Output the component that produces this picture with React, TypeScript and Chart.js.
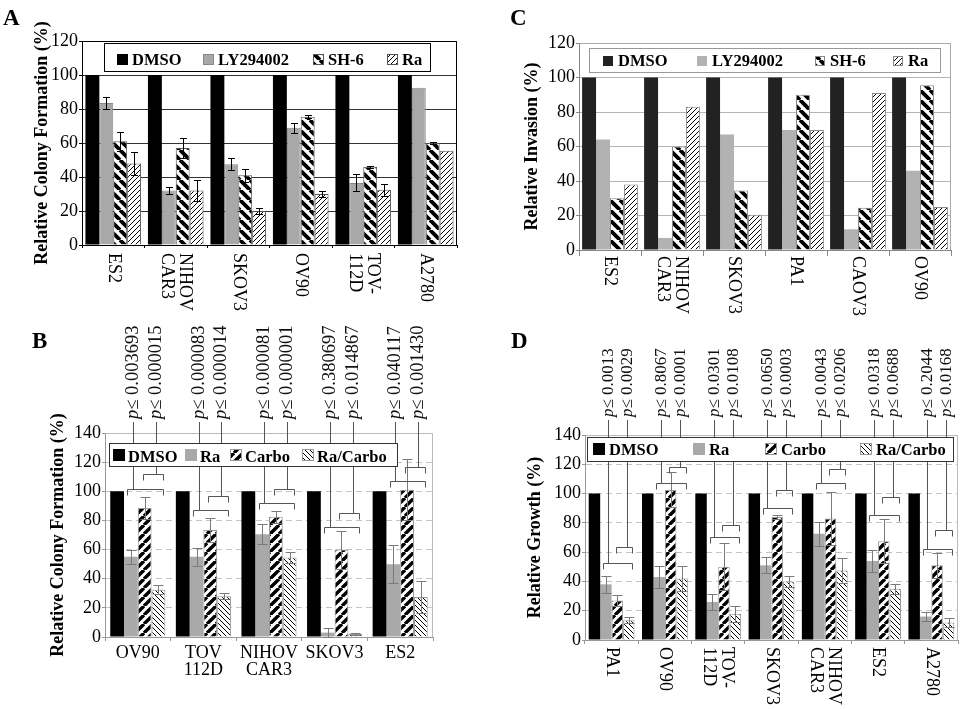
import React, { useEffect, useMemo, useRef } from "react";
import { Chart, registerables } from "chart.js";
Chart.register(...registerables);

const SERIF = '"Liberation Serif", "Times New Roman", serif';
Chart.defaults.font.family = SERIF;

// ---------------- Panel A : colony formation ----------------
const catsA = [["ES2"], ["NIHOV", "CAR3"], ["SKOV3"], ["OV90"], ["TOV-", "112D"], ["A2780"]];
const namesA = ["DMSO", "LY294002", "SH-6", "Ra"];
const aDMSO = [100, 100, 100, 100, 100, 100];
const aLY = [83.5, 32, 47.5, 69, 36.5, 92.5];
const aLYErr = [3.5, 2, 3.5, 3, 5, 0];
const aSH6 = [61, 57, 41, 75.5, 46, 60];
const aSH6Err = [5.5, 6, 4, 1, 0.5, 0.5];
const aRa = [48, 32, 20, 30, 32.5, 55.5];
const aRaErr = [7, 6, 1.5, 1.5, 3.5, 0];
const yMaxA = 120;

// ---------------- Panel C : invasion ----------------
const catsC = [["ES2"], ["NIHOV", "CAR3"], ["SKOV3"], ["PA1"], ["CAOV3"], ["OV90"]];
const namesC = ["DMSO", "LY294002", "SH-6", "Ra"];
const cDMSO = [100, 100, 100, 100, 100, 100];
const cLY = [64, 7, 67, 69.5, 12, 46];
const cSH6 = [30, 60, 34.5, 90, 24.5, 95.5];
const cRa = [38, 83, 20.5, 69.5, 91, 25];
const yMaxC = 120;

// ---------------- Panel B : colony formation with carboplatin ----------------
const catsB = [["OV90"], ["TOV", "112D"], ["NIHOV", "CAR3"], ["SKOV3"], ["ES2"]];
const namesB = ["DMSO", "Ra", "Carbo", "Ra/Carbo"];
const bDMSO = [100, 100, 100, 100, 100];
const bRa = [55, 55, 70.5, 3, 50];
const bRaErr = [5, 6, 7, 3, 13];
const bCarbo = [88.5, 73.5, 82.5, 60, 101];
const bCarboErr = [7.5, 8.5, 4, 13, 21];
const bCombo = [32.5, 28, 54.5, 2, 27.5];
const bComboErr = [3, 2, 3.5, 0.5, 11];
const bBracketLow = [101.3, 87.4, 92, 75.5, 107];
const bBracketHigh = [111.6, 96.5, 101.3, 85.3, 116.7];
const bP1 = ["0.003693", "0.000083", "0.000081", "0.380697", "0.040117"];
const bP2 = ["0.000015", "0.000014", "0.000001", "0.014867", "0.001430"];
const yMaxB = 140;

// ---------------- Panel D : growth ----------------
const catsD = [["PA1"], ["OV90"], ["TOV-", "112D"], ["SKOV3"], ["NIHOV", "CAR3"], ["ES2"], ["A2780"]];
const namesD = ["DMSO", "Ra", "Carbo", "Ra/Carbo"];
const dDMSO = [100, 100, 100, 100, 100, 100, 100];
const dRa = [38, 43, 26, 51, 72.5, 54, 16];
const dRaErr = [6, 7.5, 5.5, 5.5, 8, 7.5, 3];
const dCarbo = [27, 102.5, 50, 84, 83, 67.5, 51];
const dCarboErr = [3.5, 12, 16, 1.5, 18, 15, 8.5];
const dCombo = [13.5, 42, 18, 40, 47.5, 35, 12];
const dComboErr = [2, 8.5, 5.5, 4, 8.5, 3.5, 3];
const dBracketLow = [52.8, 107.4, 70.1, 89.9, 107, 85.4, 62.1];
const dBracketHigh = [63.3, 117.9, 78.5, 102.4, 116.8, 97.9, 75.1];
const dP1 = ["0.0013", "0.8067", "0.0301", "0.0650", "0.0043", "0.0318", "0.2044"];
const dP2 = ["0.0029", "0.0001", "0.0108", "0.0003", "0.0206", "0.0688", "0.0168"];
const yMaxD = 140;

type Box = { x: number; y: number; w: number; h: number };
type Series = { label: string; data: number[]; err?: number[]; fill: any; border?: string };
type LegendCfg = { box: Box; border: string; sw: number; swTop: number; xs: number[]; baseline: number; textOff: number };
type BracketCfg = { low: number[]; high: number[]; p1: string[]; p2: string[]; textBottom: number; color: string; fontSize: number };
type PanelCfg = {
  letter: string;
  letterPos: [number, number];
  canvas: Box;
  area: { l: number; t: number; r: number; b: number };
  titleX: number;
  yTitle: string;
  yMax: number;
  cats: string[][];
  series: Series[];
  catPct: number;
  gridColor: string;
  gridDash?: number[];
  frameColor: string;
  axisColor: string;
  xTickLen: number;
  legend: LegendCfg;
  flatLabels: boolean;
  labelTop: number;
  xH: number;
  errColor: string;
  errCap: number;
  brackets?: BracketCfg;
};

function stripe(dir: 1 | -1, period: number, lw: number): CanvasPattern | string {
  const c = document.createElement("canvas");
  c.width = period;
  c.height = period;
  const g = c.getContext("2d");
  if (!g) return "#888";
  g.fillStyle = "#fff";
  g.fillRect(0, 0, period, period);
  g.strokeStyle = "#000";
  g.lineWidth = lw;
  g.beginPath();
  for (let k = -1; k <= 1; k++) {
    if (dir === 1) {
      g.moveTo(k * period, period);
      g.lineTo(k * period + period, 0);
    } else {
      g.moveTo(k * period, 0);
      g.lineTo(k * period + period, period);
    }
  }
  g.stroke();
  return g.createPattern(c, "repeat") || "#888";
}

function buildA(): PanelCfg {
  return {
    letter: "A",
    letterPos: [3, 25],
    canvas: { x: 0, y: 0, w: 480, h: 320 },
    area: { l: 82, t: 41, r: 457, b: 245 },
    titleX: 42,
    yTitle: "Relative Colony Formation (%)",
    yMax: yMaxA,
    cats: catsA,
    series: [
      { label: namesA[0], data: aDMSO, fill: "#000" },
      { label: namesA[1], data: aLY, err: aLYErr, fill: "#a8a8a8", border: "#888" },
      { label: namesA[2], data: aSH6, err: aSH6Err, fill: stripe(-1, 10, 3.8), border: "#555" },
      { label: namesA[3], data: aRa, err: aRaErr, fill: stripe(1, 5, 1), border: "#555" },
    ],
    catPct: 0.89,
    gridColor: "#333",
    frameColor: "#000",
    axisColor: "#000",
    xTickLen: 3,
    legend: { box: { x: 104, y: 43, w: 326, h: 28 }, border: "#000", sw: 11, swTop: 54, xs: [117, 203, 313, 387], baseline: 65, textOff: 4 },
    flatLabels: false,
    labelTop: 253,
    xH: 0,
    errColor: "#000",
    errCap: 3.5,
  };
}

function buildC(): PanelCfg {
  return {
    letter: "C",
    letterPos: [510, 25],
    canvas: { x: 480, y: 0, w: 489, h: 320 },
    area: { l: 579, t: 43, r: 951, b: 250 },
    titleX: 532,
    yTitle: "Relative Invasion (%)",
    yMax: yMaxC,
    cats: catsC,
    series: [
      { label: namesC[0], data: cDMSO, fill: "#222" },
      { label: namesC[1], data: cLY, fill: "#b2b2b2" },
      { label: namesC[2], data: cSH6, fill: stripe(-1, 10, 3.8), border: "#888" },
      { label: namesC[3], data: cRa, fill: stripe(1, 5, 1), border: "#888" },
    ],
    catPct: 0.9,
    gridColor: "#b5b5b5",
    frameColor: "#aaa",
    axisColor: "#888",
    xTickLen: 6,
    legend: { box: { x: 589, y: 48, w: 351, h: 24 }, border: "#999", sw: 10, swTop: 56, xs: [603, 697, 815, 893], baseline: 66, textOff: 5 },
    flatLabels: false,
    labelTop: 256,
    xH: 0,
    errColor: "#000",
    errCap: 3.5,
  };
}

function buildB(): PanelCfg {
  return {
    letter: "B",
    letterPos: [32, 348],
    canvas: { x: 0, y: 300, w: 480, h: 409 },
    area: { l: 105, t: 433, r: 433, b: 637 },
    titleX: 58,
    yTitle: "Relative Colony Formation (%)",
    yMax: yMaxB,
    cats: catsB,
    series: [
      { label: namesB[0], data: bDMSO, fill: "#000" },
      { label: namesB[1], data: bRa, err: bRaErr, fill: "#a9a9a9" },
      { label: namesB[2], data: bCarbo, err: bCarboErr, fill: stripe(1, 9, 3.4), border: "#999" },
      { label: namesB[3], data: bCombo, err: bComboErr, fill: stripe(-1, 5, 1), border: "#999" },
    ],
    catPct: 0.84,
    gridColor: "#c4c4c4",
    gridDash: [6, 4],
    frameColor: "#bbb",
    axisColor: "#999",
    xTickLen: 4,
    legend: { box: { x: 109, y: 443, w: 288, h: 23 }, border: "#333", sw: 12, swTop: 449, xs: [113, 185, 230, 302], baseline: 462, textOff: 3 },
    flatLabels: true,
    labelTop: 647,
    xH: 50,
    errColor: "#7a7a7a",
    errCap: 5,
    brackets: { low: bBracketLow, high: bBracketHigh, p1: bP1, p2: bP2, textBottom: 419, color: "#555", fontSize: 18.5 },
  };
}

function buildD(): PanelCfg {
  return {
    letter: "D",
    letterPos: [511, 348],
    canvas: { x: 480, y: 300, w: 489, h: 409 },
    area: { l: 585, t: 435, r: 958, b: 640 },
    titleX: 535,
    yTitle: "Relative Growth (%)",
    yMax: yMaxD,
    cats: catsD,
    series: [
      { label: namesD[0], data: dDMSO, fill: "#000" },
      { label: namesD[1], data: dRa, err: dRaErr, fill: "#a9a9a9" },
      { label: namesD[2], data: dCarbo, err: dCarboErr, fill: stripe(1, 9, 3.4), border: "#999" },
      { label: namesD[3], data: dCombo, err: dComboErr, fill: stripe(-1, 5, 1), border: "#999" },
    ],
    catPct: 0.86,
    gridColor: "#c4c4c4",
    gridDash: [6, 4],
    frameColor: "#bbb",
    axisColor: "#999",
    xTickLen: 4,
    legend: { box: { x: 587, y: 437, w: 366, h: 24 }, border: "#333", sw: 12, swTop: 443, xs: [593, 693, 765, 860], baseline: 455, textOff: 4 },
    flatLabels: false,
    labelTop: 647,
    xH: 0,
    errColor: "#7a7a7a",
    errCap: 5,
    brackets: { low: dBracketLow, high: dBracketHigh, p1: dP1, p2: dP2, textBottom: 417, color: "#555", fontSize: 17 },
  };
}

function drawP(ctx: CanvasRenderingContext2D, x: number, yBottom: number, value: string, size: number) {
  ctx.save();
  ctx.translate(x, yBottom);
  ctx.rotate(-Math.PI / 2);
  ctx.textAlign = "left";
  ctx.textBaseline = "middle";
  ctx.fillStyle = "#111";
  ctx.font = `italic ${size}px ${SERIF}`;
  ctx.fillText("p", 0, 0);
  const pw = ctx.measureText("p").width;
  ctx.font = `${size}px ${SERIF}`;
  ctx.fillText("\u2264 " + value, pw, 0);
  ctx.restore();
}

function Panel({ build }: { build: () => PanelCfg }) {
  const ref = useRef<HTMLCanvasElement | null>(null);
  const cfg = useMemo(build, [build]);

  useEffect(() => {
    const canvas = ref.current;
    if (!canvas) return;
    const ox = cfg.canvas.x;
    const oy = cfg.canvas.y;
    const scaleLeft = cfg.titleX - 9 - ox;
    const padL = scaleLeft;
    const yW = cfg.area.l - ox - scaleLeft;
    const padT = cfg.area.t - oy;
    const padR = cfg.canvas.w - (cfg.area.r - ox);
    const padB = cfg.canvas.h - (cfg.area.b - oy) - cfg.xH;

    const plugin = {
      id: "panelDecor" + cfg.letter,
      afterDraw(chart: any) {
        const ctx: CanvasRenderingContext2D = chart.ctx;
        const xs = chart.scales.x;
        const ys = chart.scales.y;
        const ca = chart.chartArea;
        ctx.save();
        // frame & axes
        ctx.lineWidth = 1;
        ctx.setLineDash([]);
        ctx.strokeStyle = cfg.frameColor;
        ctx.beginPath();
        ctx.moveTo(ca.left, Math.round(ca.top) + 0.5);
        ctx.lineTo(Math.round(ca.right) - 0.5, Math.round(ca.top) + 0.5);
        ctx.lineTo(Math.round(ca.right) - 0.5, ca.bottom);
        ctx.stroke();
        ctx.strokeStyle = cfg.axisColor;
        ctx.beginPath();
        ctx.moveTo(Math.round(ca.left) + 0.5, ca.top);
        ctx.lineTo(Math.round(ca.left) + 0.5, Math.round(ca.bottom) + 0.5);
        ctx.lineTo(ca.right, Math.round(ca.bottom) + 0.5);
        ctx.stroke();

        // error bars
        cfg.series.forEach((s, di) => {
          if (!s.err) return;
          const meta = chart.getDatasetMeta(di);
          meta.data.forEach((el: any, i: number) => {
            const e = s.err ? s.err[i] : 0;
            if (!e) return;
            const v = s.data[i];
            const y1 = Math.round(ys.getPixelForValue(v + e)) + 0.5;
            const y2 = Math.round(ys.getPixelForValue(Math.max(0, v - e))) + 0.5;
            const x = Math.round(el.x) + 0.5;
            ctx.strokeStyle = cfg.errColor;
            ctx.beginPath();
            ctx.moveTo(x, y1);
            ctx.lineTo(x, y2);
            ctx.moveTo(x - cfg.errCap, y1);
            ctx.lineTo(x + cfg.errCap, y1);
            ctx.moveTo(x - cfg.errCap, y2);
            ctx.lineTo(x + cfg.errCap, y2);
            ctx.stroke();
          });
        });

        // significance brackets and p-values
        if (cfg.brackets) {
          const br = cfg.brackets;
          const mRa = chart.getDatasetMeta(1);
          const mCa = chart.getDatasetMeta(2);
          const mCo = chart.getDatasetMeta(3);
          const tb = br.textBottom - oy;
          const tick = 6;
          ctx.strokeStyle = br.color;
          br.low.forEach((lv: number, i: number) => {
            const ra = mRa.data[i];
            const cb = mCa.data[i];
            const co = mCo.data[i];
            const w = ra.width;
            const yl = Math.round(ys.getPixelForValue(lv)) + 0.5;
            const yh = Math.round(ys.getPixelForValue(br.high[i])) + 0.5;
            const lx1 = Math.round(ra.x - 0.25 * w) + 0.5;
            const lx2 = Math.round(co.x + 0.3 * w) + 0.5;
            const ux1 = Math.round(cb.x - 0.15 * w) + 0.5;
            const l1 = Math.round(ra.x + 0.15 * w) + 0.5;
            const l2 = Math.round(co.x - 0.2 * w) + 0.5;
            ctx.beginPath();
            ctx.moveTo(lx1, yl + tick);
            ctx.lineTo(lx1, yl);
            ctx.lineTo(lx2, yl);
            ctx.lineTo(lx2, yl + tick);
            ctx.moveTo(ux1, yh + tick);
            ctx.lineTo(ux1, yh);
            ctx.lineTo(lx2, yh);
            ctx.lineTo(lx2, yh + tick);
            ctx.moveTo(l1, tb + 3);
            ctx.lineTo(l1, yl);
            ctx.moveTo(l2, tb + 3);
            ctx.lineTo(l2, yh);
            ctx.stroke();
            drawP(ctx, l1, tb, br.p1[i], br.fontSize);
            drawP(ctx, l2, tb, br.p2[i], br.fontSize);
          });
        }

        // legend
        const lg = cfg.legend;
        ctx.fillStyle = "#fff";
        ctx.fillRect(lg.box.x - ox, lg.box.y - oy, lg.box.w, lg.box.h);
        ctx.strokeStyle = lg.border;
        ctx.strokeRect(lg.box.x - ox + 0.5, lg.box.y - oy + 0.5, lg.box.w, lg.box.h);
        cfg.series.forEach((s, i) => {
          const sx = lg.xs[i] - ox;
          const sy = lg.swTop - oy;
          ctx.fillStyle = s.fill;
          ctx.fillRect(sx, sy, lg.sw, lg.sw);
          if (s.border) {
            ctx.strokeStyle = s.border;
            ctx.strokeRect(sx + 0.5, sy + 0.5, lg.sw - 1, lg.sw - 1);
          }
          ctx.fillStyle = "#000";
          ctx.font = `bold 16.5px ${SERIF}`;
          ctx.textAlign = "left";
          ctx.textBaseline = "alphabetic";
          ctx.fillText(s.label, sx + lg.sw + lg.textOff, lg.baseline - oy);
        });

        // rotated category labels
        if (!cfg.flatLabels) {
          ctx.fillStyle = "#000";
          ctx.font = `18px ${SERIF}`;
          ctx.textAlign = "left";
          ctx.textBaseline = "middle";
          cfg.cats.forEach((lines, i) => {
            const x = xs.getPixelForValue(i);
            ctx.save();
            ctx.translate(x, cfg.labelTop - oy);
            ctx.rotate(Math.PI / 2);
            lines.forEach((t, k) => ctx.fillText(t, 0, (k - (lines.length - 1) / 2) * 18));
            ctx.restore();
          });
        }

        // panel letter
        ctx.fillStyle = "#000";
        ctx.font = `bold 23px ${SERIF}`;
        ctx.textAlign = "left";
        ctx.textBaseline = "alphabetic";
        ctx.fillText(cfg.letter, cfg.letterPos[0] - ox, cfg.letterPos[1] - oy);
        ctx.restore();
      },
    };

    const chart = new Chart(canvas, {
      type: "bar",
      data: {
        labels: cfg.cats as any,
        datasets: cfg.series.map((s) => ({
          label: s.label,
          data: s.data,
          backgroundColor: s.fill,
          borderColor: s.border || "rgba(0,0,0,0)",
          borderWidth: s.border ? 1 : 0,
          barPercentage: 1,
          categoryPercentage: cfg.catPct,
        })),
      },
      options: {
        responsive: false,
        animation: false,
        devicePixelRatio: 1,
        layout: { padding: { left: padL, top: padT, right: padR, bottom: padB } },
        plugins: { legend: { display: false }, tooltip: { enabled: false } },
        scales: {
          x: {
            grid: {
              display: true,
              drawOnChartArea: false,
              drawTicks: true,
              tickLength: cfg.xTickLen,
              offset: true,
              color: cfg.axisColor,
              tickColor: cfg.axisColor,
            },
            border: { display: true, color: cfg.axisColor },
            ticks: cfg.flatLabels
              ? { display: true, color: "#000", font: { family: SERIF, size: 18, lineHeight: 0.95 }, padding: 4, maxRotation: 0, autoSkip: false }
              : { display: false },
            afterFit: (s: any) => {
              s.height = cfg.xH;
            },
          } as any,
          y: {
            min: 0,
            max: cfg.yMax,
            ticks: { stepSize: 20, color: "#000", font: { family: SERIF, size: 18 }, padding: 1 },
            grid: { color: cfg.gridColor, tickLength: 3, tickColor: cfg.axisColor, drawTicks: true },
            border: { display: true, color: cfg.axisColor, dash: cfg.gridDash || [] },
            title: {
              display: true,
              text: cfg.yTitle,
              color: "#000",
              font: { family: SERIF, size: 18, weight: "bold", lineHeight: 1 },
              padding: 0,
            },
            afterFit: (s: any) => {
              s.width = yW;
            },
          } as any,
        },
      },
      plugins: [plugin],
    });
    return () => chart.destroy();
  }, [cfg]);

  return (
    <canvas
      ref={ref}
      width={cfg.canvas.w}
      height={cfg.canvas.h}
      style={{ position: "absolute", left: cfg.canvas.x, top: cfg.canvas.y, width: cfg.canvas.w, height: cfg.canvas.h, display: "block" }}
    />
  );
}

export default function App() {
  return (
    <div style={{ position: "fixed", left: 0, top: 0, width: 969, height: 709, background: "#fff", overflow: "hidden" }}>
      <Panel build={buildA} />
      <Panel build={buildC} />
      <Panel build={buildB} />
      <Panel build={buildD} />
    </div>
  );
}
